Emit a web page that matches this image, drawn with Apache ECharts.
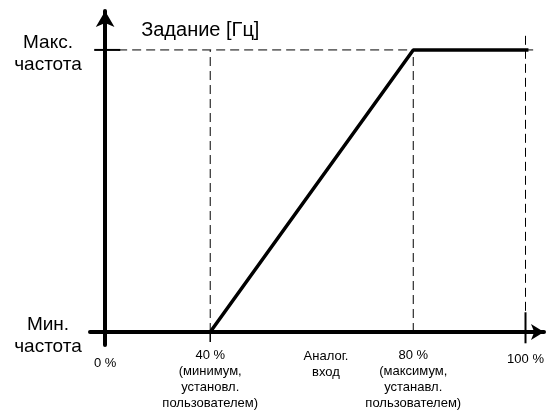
<!DOCTYPE html>
<html>
<head>
<meta charset="utf-8">
<script src="https://cdn.jsdelivr.net/npm/echarts@6/dist/echarts.min.js"></script>
<style>html,body{margin:0;padding:0;background:#fff}#chart{width:547px;height:410px}</style>
</head>
<body>
<div id="chart"></div>
<script>
// положения подписей по оси X (схема, шкала не линейная)
var xTickPos = [0, 25, 73.3, 100];
var xTickLabels = ['0 %', '40 %\n(минимум,\nустановл.\nпользователем)', '80 %\n(максимум,\nустанавл.\nпользователем)', '100 %'];
// уровни по оси Y
var yLevels = [0, 1];
var yLabels = [['Мин.', 'частота'], ['Макс.', 'частота']];
// характеристика задания
var refX = [25, 73.3, 100.7];
var refY = [0, 1, 1];

var font = 'Liberation Sans, Arial, sans-serif';
var chart = echarts.init(document.getElementById('chart'));

function seg(a, b, dashed, width) {
	return {
		type: 'line',
		data: [a, b],
		symbol: 'none',
		silent: true,
		lineStyle: { color: '#000', width: width || 1, type: dashed ? [9, 5] : 'solid' }
	};
}

var series = [];
// пунктир: уровень макс. частоты
series.push(seg([3.1, yLevels[1]], [103, yLevels[1]], true));
// пунктир: вертикали 40 %, 80 %
series.push(seg([xTickPos[1], yLevels[0]], [xTickPos[1], yLevels[1]], true));
series.push(seg([xTickPos[2], yLevels[0]], [xTickPos[2], yLevels[1]], true));
series.push(seg([xTickPos[3], yLevels[1] + 0.05], [xTickPos[3], 0.07], true));
// короткие сплошные штрихи
series.push(seg([-2.6, yLevels[1]], [3.6, yLevels[1]], false, 2));
series.push(seg([xTickPos[1], yLevels[0]], [xTickPos[1], -0.035], false, 1.5));
series.push(seg([xTickPos[3], 0.07], [xTickPos[3], -0.04], false, 2));
// основная линия
series.push({
	type: 'line',
	data: refX.map(function (x, i) { return [x, refY[i]]; }),
	symbol: 'none',
	lineStyle: { color: '#000', width: 3.5 },
	z: 5
});

chart.setOption({
	animation: false,
	grid: { left: 90, right: 3, top: 11, bottom: 65, containLabel: false, outerBoundsMode: 'none' },
	xAxis: {
		type: 'value',
		min: -3.6,
		max: 104.4,
		name: 'Аналог.\nвход',
		nameLocation: 'middle',
		nameGap: 3,
		nameMoveOverlap: false,
		nameTextStyle: { color: '#000', fontFamily: font, fontSize: 13, lineHeight: 16, verticalAlign: 'top', padding: [0, 0, 0, 18] },
		axisLine: { onZero: true, symbol: ['none', 'arrow'], symbolSize: [12, 13], lineStyle: { color: '#000', width: 4 } },
		axisTick: { show: false },
		splitLine: { show: false },
		axisLabel: {
			customValues: xTickPos,
			margin: 2,
			color: '#000',
			fontFamily: font,
			fontSize: 13,
			lineHeight: 16,
			formatter: function (v) {
				var i = xTickPos.indexOf(v);
				if (i === 0) return '{a|' + xTickLabels[i] + '}';
				if (i === 3) return '{b|' + xTickLabels[i] + '}';
				return xTickLabels[i];
			},
			rich: {
				a: { fontFamily: font, fontSize: 13, lineHeight: 32, color: '#000' },
				b: { fontFamily: font, fontSize: 13, lineHeight: 24, color: '#000' }
			}
		}
	},
	yAxis: {
		type: 'value',
		min: -0.046,
		max: 1.138,
		name: 'Задание [Гц]',
		nameLocation: 'end',
		nameGap: -19,
		nameTextStyle: { color: '#000', fontFamily: font, fontSize: 20, align: 'left', verticalAlign: 'middle', padding: [0, 0, 0, 36] },
		axisLine: { onZero: true, symbol: ['none', 'arrow'], symbolSize: [14, 16], lineStyle: { color: '#000', width: 4 } },
		axisTick: { show: false },
		splitLine: { show: false },
		axisLabel: {
			customValues: yLevels,
			margin: 42,
			align: 'center',
			color: '#000',
			fontFamily: font,
			fontSize: 19,
			lineHeight: 22,
			formatter: function (v) {
				var l = yLabels[yLevels.indexOf(v)];
				return '{e| }\n{n|' + l[0] + '}\n{n|' + l[1] + '}';
			},
			rich: {
				e: { fontSize: 8, lineHeight: 8 },
				n: { fontFamily: font, fontSize: 19, lineHeight: 22, color: '#000' }
			}
		}
	},
	series: series
});
</script>
</body>
</html>
